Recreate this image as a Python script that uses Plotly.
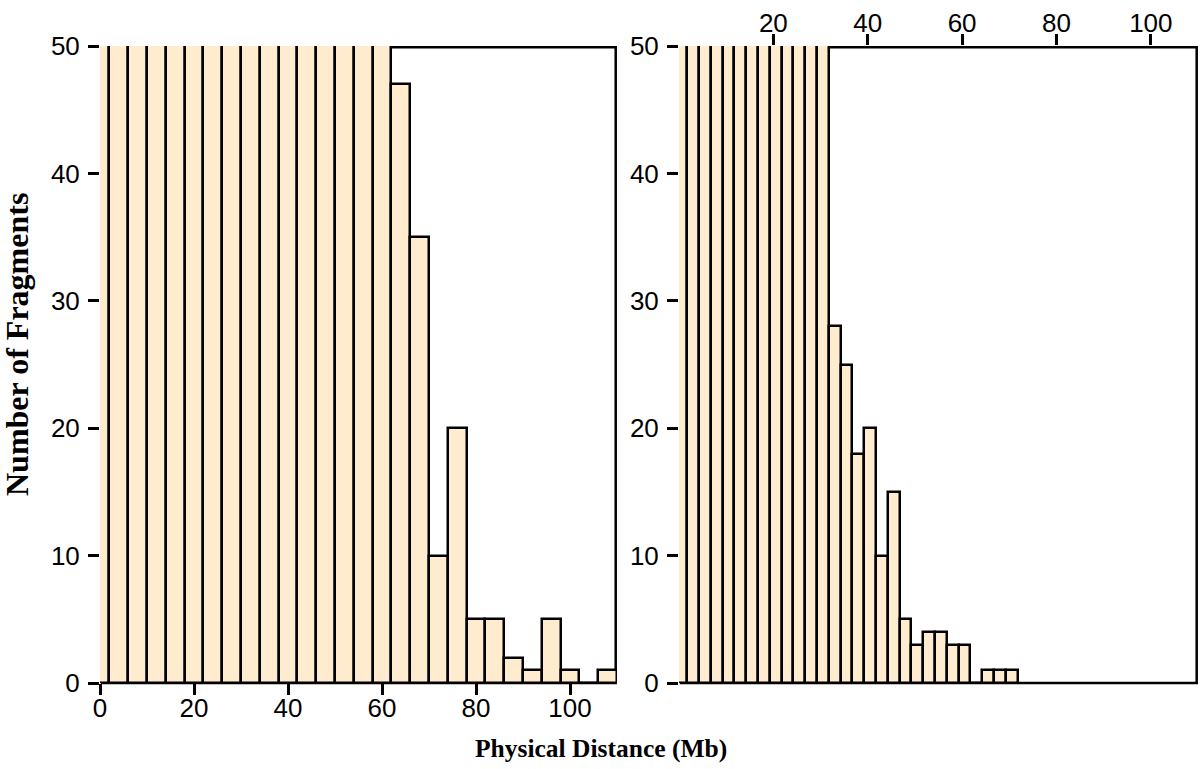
import plotly.graph_objects as go

# Left panel: 4 Mb bins (centres), counts; bars up to 60 Mb run past the 50 cap
left_centres = [0, 4, 8, 12, 16, 20, 24, 28, 32, 36, 40, 44, 48, 52, 56, 60,
                64, 68, 72, 76, 80, 84, 88, 92, 96, 100, 104, 108]
left_counts = [120, 210, 200, 182, 170, 158, 146, 134, 122, 110, 99, 90, 81, 72, 64, 56,
               47, 35, 10, 20, 5, 5, 2, 1, 5, 1, 0, 1]
left_width = 4

# Right panel: 2.5 Mb bins (centres), counts; bars up to ~30 Mb run past the cap
right_centres = [0.5, 3, 5.5, 8, 10.5, 13, 15.5, 18, 20.5, 23, 25.5, 28, 30.5,
                 33, 35.5, 38, 40.5, 43, 45.5, 48, 50.5, 53, 55.5, 58, 60.5,
                 63, 65.5, 68, 70.5]
right_counts = [95, 140, 150, 138, 126, 112, 100, 88, 77, 68, 60, 55, 52,
                28, 25, 18, 20, 10, 15, 5, 3, 4, 4, 3, 3,
                0, 1, 1, 1]
right_width = 2.5

y_ticks = [0, 10, 20, 30, 40, 50]
left_x_ticks = [0, 20, 40, 60, 80, 100]
right_x_ticks = [20, 40, 60, 80, 100]

FILL = '#FFEBCD'
LINE_W = 2.5
TICK_FONT = dict(family='Liberation Sans, Arial, sans-serif', size=26, color='black')
SERIF = 'Liberation Serif, Times New Roman, serif'

W, H = 1200, 769

def px_x(v):
    return v / W

def px_y(v):
    return 1 - v / H

fig = go.Figure()

fig.add_trace(go.Bar(
    x=left_centres, y=left_counts, width=left_width,
    marker=dict(color=FILL, line=dict(color='black', width=LINE_W)),
    xaxis='x', yaxis='y', showlegend=False,
))
fig.add_trace(go.Bar(
    x=right_centres, y=right_counts, width=right_width,
    marker=dict(color=FILL, line=dict(color='black', width=LINE_W)),
    xaxis='x2', yaxis='y2', showlegend=False,
))

# frame of each panel, drawn under the bars so tall bars hide it
for xr, yr in [('x domain', 'y domain'), ('x2 domain', 'y2 domain')]:
    fig.add_shape(type='rect', xref=xr, yref=yr, x0=0.004, x1=0.9975, y0=0.0, y1=0.998,
                  line=dict(color='black', width=LINE_W), layer='below')

common_y = dict(range=[0, 50], tickvals=y_ticks, ticks='outside', ticklen=11,
                tickwidth=LINE_W, tickcolor='black', showline=False, showgrid=False,
                zeroline=False, tickfont=TICK_FONT, ticklabelstandoff=3,
                automargin=False)
common_x = dict(range=[0, 110], ticks='outside', ticklen=11, tickwidth=LINE_W,
                tickcolor='black', showline=False, showgrid=False, zeroline=False,
                tickfont=TICK_FONT, automargin=False)

y_dom = [px_y(683), px_y(46)]

fig.update_layout(
    width=W, height=H,
    margin=dict(l=0, r=0, t=0, b=0),
    paper_bgcolor='white', plot_bgcolor='white',
    bargap=0,
    xaxis=dict(domain=[px_x(100), px_x(617)], anchor='y', tickvals=left_x_ticks,
               ticklabelstandoff=-9, **common_x),
    yaxis=dict(domain=y_dom, anchor='x', **common_y),
    xaxis2=dict(domain=[px_x(679), px_x(1198)], anchor='y2', side='top',
                tickvals=right_x_ticks, ticklabelstandoff=-8, **common_x),
    yaxis2=dict(domain=y_dom, anchor='x2', **common_y),
)

fig.add_annotation(text='<b>Number of Fragments</b>', xref='paper', yref='paper',
                   x=px_x(17), y=px_y(345), xanchor='center', yanchor='middle',
                   textangle=-90, showarrow=False,
                   font=dict(family=SERIF, size=32, color='black'))
fig.add_annotation(text='<b>Physical Distance (Mb)</b>', xref='paper', yref='paper',
                   x=px_x(601), y=px_y(748), xanchor='center', yanchor='middle',
                   showarrow=False, font=dict(family=SERIF, size=25.5, color='black'))

# drop the browser's default body margin so the figure sits at the page corner
fig.write_html("out.html", config={'displayModeBar': False},
               post_script="document.body.style.margin='0';")
